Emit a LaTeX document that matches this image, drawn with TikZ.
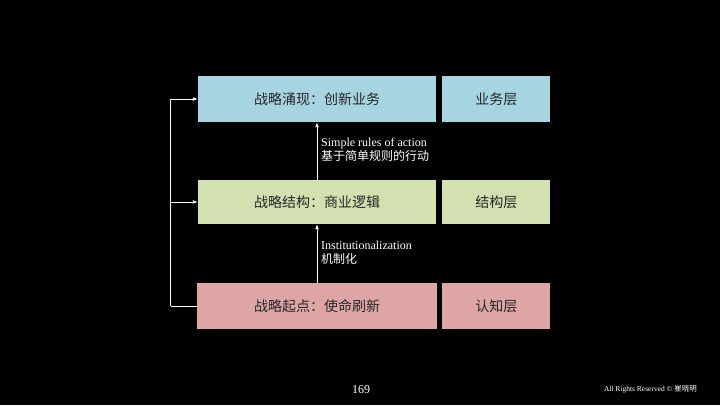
\documentclass[tikz,border=0pt]{standalone}
\usepackage{fontspec}
\setmainfont{Liberation Serif}
\newfontfamily\cjk{Noto Sans CJK SC}
\usetikzlibrary{positioning, arrows.meta}
\definecolor{emergeblue}{HTML}{A7D4E1}
\definecolor{logicgreen}{HTML}{D3E0AF}
\definecolor{originpink}{HTML}{DDA6A5}
\definecolor{boxtext}{HTML}{262626}
\tikzset{
  layerbox/.style={minimum height=46pt, inner sep=0pt, text=boxtext, font=\cjk\fontsize{14}{16}\selectfont},
  flow/.style={draw=white, line width=0.9pt, -{Latex[length=5pt,width=4pt]}},
  rail/.style={draw=white, line width=0.9pt},
  note/.style={text=white, align=left, anchor=west, inner sep=0pt, font=\fontsize{12}{14}\selectfont}
}

\begin{document}
\begin{tikzpicture}[x=1pt, y=-1pt]
\useasboundingbox[fill=black] (0,0) rectangle (720,405);
% three strategy layers
\node[layerbox, fill=emergeblue, minimum width=238pt] (emerge) at (317,99) {战略涌现：创新业务};
\node[layerbox, fill=emergeblue, minimum width=108pt, right=6pt of emerge] (bizlayer) {业务层};
\node[layerbox, fill=logicgreen, minimum width=238pt, minimum height=44pt] (logic) at (317,202) {战略结构：商业逻辑};
\node[layerbox, fill=logicgreen, minimum width=108pt, minimum height=44pt, right=6pt of logic] (structlayer) {结构层};
\node[layerbox, fill=originpink, minimum width=240pt] (origin) at (317,306) {战略起点：使命刷新};
\node[layerbox, fill=originpink, minimum width=108pt, right=5pt of origin] (cognlayer) {认知层};
% upward links
\draw[flow] (origin.north) -- (logic.south);
\draw[flow] (logic.north) -- (emerge.south);
\node[note] (instnote) at (321,253) {Institutionalization\\{\cjk 机制化}};
\node[note] (rulesnote) at (321,150) {Simple rules of action\\{\cjk 基于简单规则的行动}};
% feedback rail on the left
\coordinate[left=26pt of origin.west] (railfoot);
\draw[rail] (origin.west) -- (railfoot);
\draw[flow] (railfoot) |- (emerge.west);
\draw[flow] (railfoot |- logic.west) -- (logic.west);
% footer
\node[text=white, font=\fontsize{12}{14}\selectfont] (pageno) at (361,390) {169};
\node[text=white, anchor=east, inner sep=0pt, font=\fontsize{7.5}{9}\selectfont] (rights) at (697,389) {All Rights Reserved © {\cjk 崔晓明}};
\end{tikzpicture}
\end{document}
